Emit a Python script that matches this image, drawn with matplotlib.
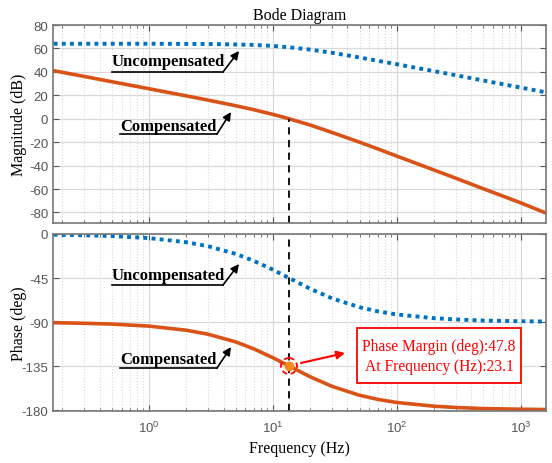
import numpy as np
import matplotlib.pyplot as plt
from matplotlib.patches import Ellipse, Rectangle

plt.rcParams['axes.unicode_minus'] = False

# values
freq = [0.17, 0.3, 0.5, 1, 2, 3, 5, 7, 10, 13.5, 20, 30, 50, 70, 100, 200, 300, 500, 1000, 1600]
mag_uncomp = [64.0, 64.0, 64.0, 64.0, 63.9, 63.8, 63.4, 63.0, 62.1, 61.0, 59.0, 56.3, 52.3, 49.5,
              46.5, 40.6, 37.1, 32.6, 26.6, 22.5]
mag_comp = [41.0, 36.1, 31.6, 25.6, 19.5, 15.9, 11.1, 7.7, 3.7, 0.0, -5.4, -11.7, -20.0, -25.7,
            -31.9, -43.8, -50.8, -59.8, -71.8, -80.5]
ph_uncomp = [-0.7, -1.3, -2.1, -4.2, -8.4, -12.5, -20.3, -27.4, -36.5, -45.0, -56.0, -65.8, -74.9,
             -79.1, -82.3, -86.1, -87.4, -88.5, -89.2, -89.5]
ph_comp = [-90.7, -91.3, -92.1, -94.2, -98.4, -102.5, -110.3, -117.4, -126.5, -135.0, -146.0,
           -155.8, -164.9, -169.1, -172.3, -176.1, -177.4, -178.5, -179.2, -179.5]
mag_ticks = [-80, -60, -40, -20, 0, 20, 40, 60, 80]
ph_ticks = [-180, -135, -90, -45, 0]
f_cross = 13.5
ph_cross = -135.0
pm_text = 'Phase Margin (deg):47.8\nAt Frequency (Hz):23.1'

blue = '#0072BD'
orange = '#D95319'
serif = 'Liberation Serif'
sans = 'Liberation Sans'

fig = plt.figure(figsize=(5.52, 4.64), dpi=100)
ax1 = fig.add_axes([53/552, 1-224/464, 493/552, 198/464])
ax2 = fig.add_axes([53/552, 1-412/464, 493/552, 177/464])


def style(ax):
    ax.set_xscale('log')
    ax.set_xlim(0.168, 1600)
    ax.grid(True, which='major', color='#d9d9d9', lw=0.9)
    ax.grid(True, which='minor', color='#d9d9d9', lw=0.8, ls=':')
    ax.tick_params(which='both', direction='in', top=True, right=True, colors='#555555',
                   labelsize=9.5)
    ax.tick_params(which='major', length=4)
    ax.tick_params(which='minor', length=2.5)
    ax.tick_params(axis='x', pad=6)
    for s in ax.spines.values():
        s.set_color('#777777')
        s.set_linewidth(1.2)


style(ax1)
ax1.plot(freq, mag_uncomp, color=blue, lw=2.8, ls=(0, (1, 1.1)))
ax1.plot(freq, mag_comp, color=orange, lw=2.6)
ax1.set_ylim(-89, 80)
ax1.set_yticks(mag_ticks)
ax1.tick_params(axis='x', which='both', labelbottom=False)
ax1.plot([f_cross, f_cross], [-89, 0], color='black', lw=1.3, ls=(0, (4, 3)))
ax1.set_ylabel('Magnitude (dB)', family=serif, fontsize=11.5)
ax1.yaxis.set_label_coords(-26/493, 0.5)
ax1.set_title('Bode Diagram', family=serif, fontsize=11.5, pad=4)

style(ax2)
ax2.plot(freq, ph_uncomp, color=blue, lw=2.8, ls=(0, (1, 1.1)))
ax2.plot(freq, ph_comp, color=orange, lw=2.6)
ax2.set_ylim(-181, 0)
ax2.set_yticks(ph_ticks)
ax2.axvline(f_cross, color='black', lw=1.3, ls=(0, (4, 3)))
ax2.set_ylabel('Phase (deg)', family=serif, fontsize=11.5)
ax2.yaxis.set_label_coords(-26/493, 0.5)
ax2.set_xlabel('Frequency (Hz)', family=serif, fontsize=11.5, labelpad=4)
for ax in (ax1, ax2):
    for lab in ax.get_xticklabels() + ax.get_yticklabels():
        lab.set_family(sans)

# overlay in figure pixels for the callouts
top = fig.add_axes([0, 0, 1, 1], frameon=False)
top.set_axis_off()
top.set_xlim(0, 552)
top.set_ylim(464, 0)


def callout(text, tx, ty, x0, x1, yline, tip):
    top.text(tx, ty, text, family=serif, weight='bold', fontsize=12, ha='center', va='center')
    top.plot([x0, x1], [yline, yline], color='black', lw=1.2)
    top.annotate('', xy=tip, xytext=(x1, yline),
                 arrowprops=dict(arrowstyle='-|>', color='black', lw=1.2,
                                 mutation_scale=12, shrinkA=0, shrinkB=0))


callout('Uncompensated', 168, 62, 112, 223, 73, (239, 52))
callout('Compensated', 168, 127, 120, 217, 135, (231, 113))
callout('Uncompensated', 168, 276, 112, 223, 286, (239, 265))
callout('Compensated', 168, 360, 120, 217, 369, (231, 348))

# phase margin marker
ax2.plot([f_cross], [ph_cross], 'o', color='#F28A1E', ms=6, zorder=5)
top.add_patch(Ellipse((289, 367), 16, 16, fill=False, ec='red', lw=1.3, ls=(0, (3, 2))))
top.annotate('', xy=(345, 354), xytext=(301, 364),
             arrowprops=dict(arrowstyle='-|>', color='red', lw=1.5, mutation_scale=12,
                             shrinkA=0, shrinkB=0))
top.add_patch(Rectangle((357, 328.5), 164, 55, fill=True, fc='white', ec='red', lw=1.3))
top.text(439, 357, pm_text, color='red', family=serif, fontsize=11.2, ha='center',
         va='center', linespacing=1.3)

fig.savefig('out.png', dpi=100)
